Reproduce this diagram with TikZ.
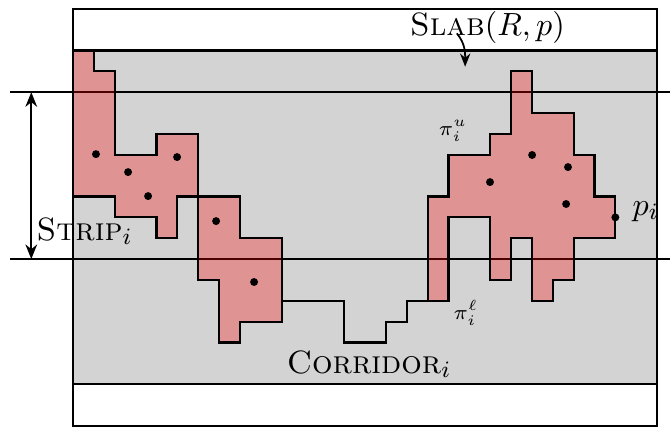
\documentclass[tikz,border=0pt]{standalone}
\usetikzlibrary{arrows.meta}
\definecolor{slabgray}{RGB}{211,211,211}
\tikzset{
  region/.style={fill=red, fill opacity=0.3, draw=black, draw opacity=1, line width=0.75pt, line join=miter},
  pt/.style={fill=black},
  stripline/.style={line width=0.55pt},
  lbl/.style={inner sep=0pt, font=\fontsize{11}{13}\selectfont},
  smalllbl/.style={inner sep=0pt, font=\fontsize{7.5}{9}\selectfont},
  tip/.style={-{Stealth[length=4.5pt,width=3.5pt]}, line width=0.6pt}
}
\begin{document}
\begin{tikzpicture}[x=0.25cm,y=0.25cm]
\useasboundingbox (-3.5,-8.15) rectangle (28.62,12.42);
% outer rectangle and slab
\draw[line width=0.7pt] (0,-8) rectangle (28,12);
\draw[fill=slabgray, line width=0.7pt] (0,-6) rectangle (28,10);
% strip lines
\draw[stripline] (-3,8) -- (29,8);
\draw[stripline] (-3,0) -- (29,0);
% corridor bottom path
\draw[line width=0.75pt] (10,-2) -- (13,-2) -- (13,-4) -- (15,-4) -- (15,-3) -- (16,-3) -- (16,-2) -- (17,-2);
% regions
\draw[region] (0,10) -- (1,10) -- (1,9) -- (2,9) -- (2,5) -- (4,5) -- (4,6) -- (6,6) -- (6,3) -- (5,3) -- (5,1) -- (4,1) -- (4,2) -- (2,2) -- (2,3) -- (0,3) -- cycle;
\draw[region] (6,3) -- (8,3) -- (8,1) -- (10,1) -- (10,-3) -- (8,-3) -- (8,-4) -- (7,-4) -- (7,-1) -- (6,-1) -- cycle;
\draw[region] (21,9) -- (22,9) -- (22,7) -- (24,7) -- (24,5) -- (25,5) -- (25,3) -- (26,3) -- (26,1) -- (24,1) -- (24,-1) -- (23,-1) -- (23,-2) -- (22,-2) -- (22,1) -- (21,1) -- (21,-1) -- (20,-1) -- (20,2) -- (18,2) -- (18,-2) -- (17,-2) -- (17,3) -- (18,3) -- (18,5) -- (20,5) -- (20,6) -- (21,6) -- cycle;
% points
\foreach \p in {(1.1,5.03),(2.64,4.17),(3.6,3.02),(4.99,4.89),(6.86,1.82),(8.68,-1.1),(19.99,3.69),(22.01,4.99),(23.73,4.41),(23.64,2.64),(26,2)}
  \fill[pt] \p circle (0.19);
% strip arrow
\coordinate (stripTop) at (-2,8);
\coordinate (stripBot) at (-2,0);
\draw[{Stealth[length=5pt,width=4pt]}-{Stealth[length=5pt,width=4pt]}, line width=0.6pt] (stripTop) -- (stripBot);
% labels
\node[lbl, anchor=base west] (strip) at (-1.77,0.91) {\textsc{Strip}$_i$};
\node[lbl, anchor=base] (slab) at (19.87,10.74) {\textsc{Slab}$(R,p)$};
\node[lbl, anchor=base] (corr) at (14.19,-5.47) {\textsc{Corridor}$_i$};
\node[lbl, anchor=base west] (pi) at (26.8,2.11) {$p_i$};
\node[smalllbl] (piu) at (18.22,6.14) {$\pi_i^u$};
\node[smalllbl] (pil) at (18.84,-2.59) {$\pi_i^\ell$};
\coordinate (slabtip) at (18.8,9.22);
\draw[tip] (18.4,10.82) to[out=-50,in=90] (slabtip);
\end{tikzpicture}
\end{document}
